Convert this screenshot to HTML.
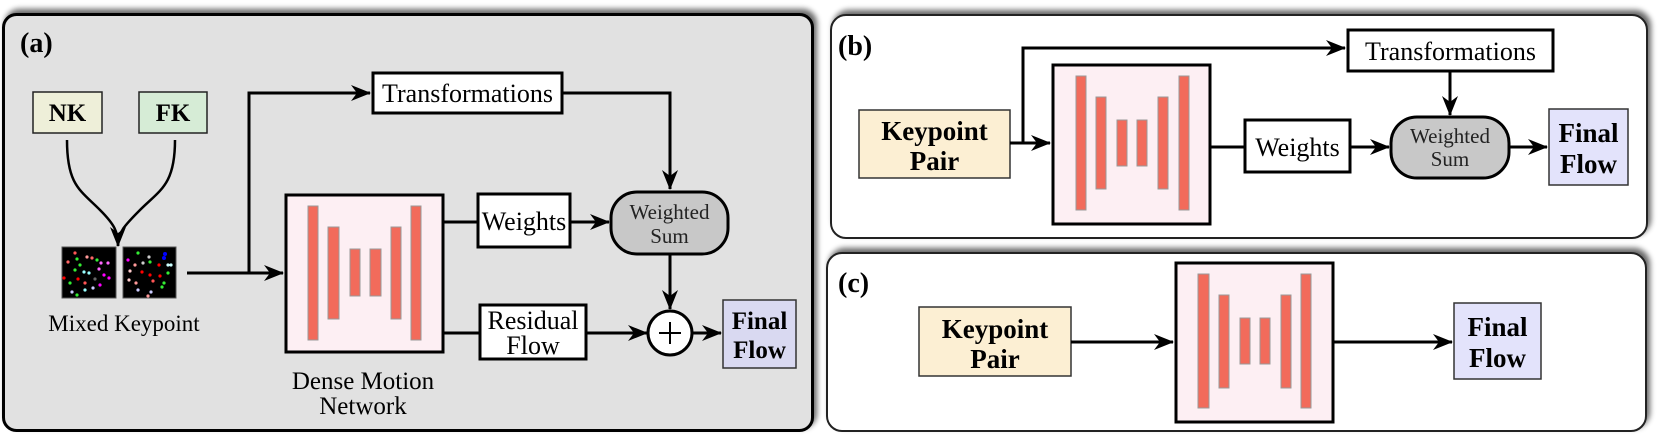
<!DOCTYPE html>
<html><head><meta charset="utf-8"><style>
html,body{margin:0;padding:0;background:#fff;}
svg{display:block;font-family:"Liberation Serif","DejaVu Serif",serif;}
svg text{font-family:"Liberation Serif","DejaVu Serif",serif;}
</style></head><body>
<svg width="1661" height="435" viewBox="0 0 1661 435" xmlns="http://www.w3.org/2000/svg" font-family="Liberation Serif, DejaVu Serif, serif">
<defs>
<marker id="ar" viewBox="0 0 20 16" refX="19" refY="8" markerWidth="20" markerHeight="16" markerUnits="userSpaceOnUse" orient="auto">
<path d="M0,0 L20,8 L0,16 L6,8 Z" fill="#000"/>
</marker>
<filter id="sh" x="-5%" y="-10%" width="110%" height="120%">
<feGaussianBlur in="SourceAlpha" stdDeviation="3"/>
<feOffset dx="3" dy="-4"/>
<feComponentTransfer><feFuncA type="linear" slope="0.6"/></feComponentTransfer>
<feMerge><feMergeNode/><feMergeNode in="SourceGraphic"/></feMerge>
</filter>
</defs>

<!-- Panel a -->
<rect x="3.5" y="14.5" width="809" height="416" rx="13" fill="#e1e1e1" stroke="#000" stroke-width="3" filter="url(#sh)"/>
<text x="20" y="52" font-size="28" font-weight="bold">(a)</text>

<rect x="33" y="92" width="69" height="41" fill="#eeefd9" stroke="#222" stroke-width="1.5"/>
<text x="67.5" y="121" font-size="25" font-weight="bold" text-anchor="middle">NK</text>
<rect x="139" y="92" width="68" height="41" fill="#d6ecd6" stroke="#222" stroke-width="1.5"/>
<text x="173" y="121" font-size="25" font-weight="bold" text-anchor="middle">FK</text>

<path d="M67,140 C67,185 80,190 100,210 C115,225 118,232 118,246" fill="none" stroke="#000" stroke-width="2.5" marker-end="url(#ar)"/>
<path d="M175,140 C175,185 160,190 140,210 C125,225 118,232 118,246" fill="none" stroke="#000" stroke-width="2.5"/>

<rect x="62" y="247" width="54" height="51" fill="#000" stroke="#555" stroke-width="1"/>
<rect x="123" y="247" width="53" height="51" fill="#000" stroke="#555" stroke-width="1"/>
<g>
<circle cx="75" cy="253" r="1.6" fill="#f55"/><circle cx="87" cy="257" r="1.6" fill="#f99"/><circle cx="92" cy="258" r="1.6" fill="#f66"/>
<circle cx="68" cy="262" r="1.6" fill="#f66"/><circle cx="77" cy="259" r="1.6" fill="#3e3"/><circle cx="80" cy="265" r="1.6" fill="#3e3"/>
<circle cx="97" cy="260" r="1.6" fill="#3e3"/><circle cx="101" cy="263" r="1.6" fill="#f6f"/><circle cx="108" cy="263" r="1.6" fill="#f6f"/>
<circle cx="75" cy="270" r="1.6" fill="#3e3"/><circle cx="84" cy="272" r="1.6" fill="#9ff"/><circle cx="89" cy="273" r="1.6" fill="#9ff"/>
<circle cx="99" cy="269" r="1.6" fill="#f6f"/><circle cx="104" cy="275" r="1.6" fill="#f0f"/><circle cx="109" cy="278" r="1.6" fill="#f0f"/>
<circle cx="64" cy="278" r="1.6" fill="#f00"/><circle cx="70" cy="283" r="1.6" fill="#3e3"/><circle cx="78" cy="279" r="1.6" fill="#f00"/>
<circle cx="85" cy="283" r="1.6" fill="#f55"/><circle cx="95" cy="279" r="1.6" fill="#666"/><circle cx="100" cy="285" r="1.6" fill="#f0f"/>
<circle cx="72" cy="292" r="1.6" fill="#ccf"/><circle cx="77" cy="295" r="1.6" fill="#3e3"/><circle cx="85" cy="290" r="1.6" fill="#9ff"/><circle cx="93" cy="288" r="1.6" fill="#ccf"/>
<circle cx="138" cy="253" r="1.6" fill="#3e3"/><circle cx="149" cy="257" r="1.6" fill="#ccc"/><circle cx="165" cy="254" r="2" fill="#00f"/><circle cx="164" cy="258" r="2" fill="#00f"/>
<circle cx="128" cy="260" r="1.6" fill="#f0f"/><circle cx="135" cy="265" r="1.6" fill="#f99"/><circle cx="143" cy="263" r="1.6" fill="#ccc"/><circle cx="150" cy="262" r="1.6" fill="#3e3"/>
<circle cx="159" cy="265" r="1.6" fill="#f00"/><circle cx="168" cy="265" r="1.6" fill="#cff"/><circle cx="171" cy="265" r="1.6" fill="#cff"/>
<circle cx="130" cy="271" r="1.6" fill="#fcc"/><circle cx="142" cy="272" r="1.6" fill="#f00"/><circle cx="150" cy="275" r="1.6" fill="#f00"/><circle cx="160" cy="276" r="1.6" fill="#f00"/><circle cx="168" cy="273" r="1.6" fill="#3e3"/>
<circle cx="129" cy="280" r="1.6" fill="#fcc"/><circle cx="136" cy="283" r="1.6" fill="#f99"/><circle cx="153" cy="281" r="1.6" fill="#f55"/><circle cx="164" cy="283" r="1.6" fill="#3e3"/>
<circle cx="138" cy="290" r="1.6" fill="#ccf"/><circle cx="151" cy="292" r="1.6" fill="#ccf"/><circle cx="162" cy="287" r="1.6" fill="#3e3"/><circle cx="148" cy="296" r="1.6" fill="#f99"/>
</g>
<text x="124" y="331" font-size="23" text-anchor="middle">Mixed Keypoint</text>

<path d="M187,273 L283,273" fill="none" stroke="#000" stroke-width="3" marker-end="url(#ar)"/>
<path d="M249,273 L249,93 L370,93" fill="none" stroke="#000" stroke-width="3" marker-end="url(#ar)"/>

<rect x="373" y="73" width="189" height="40" fill="#fff" stroke="#000" stroke-width="3"/>
<text x="467.5" y="102" font-size="26" text-anchor="middle">Transformations</text>
<path d="M562,93 L670,93 L670,189" fill="none" stroke="#000" stroke-width="3" marker-end="url(#ar)"/>

<rect x="611" y="192" width="117" height="62" rx="26" fill="#c8c8c8" stroke="#000" stroke-width="3"/>
<text x="669.5" y="219" font-size="21" text-anchor="middle" fill="#222">Weighted</text>
<text x="669.5" y="243" font-size="21" text-anchor="middle" fill="#222">Sum</text>

<!-- DMN a -->
<rect x="286" y="195" width="157" height="157" fill="#fdeff3" stroke="#000" stroke-width="3"/>
<g fill="#f26b5b" stroke="#999" stroke-width="1">
<rect x="308" y="206" width="10" height="134"/><rect x="328" y="227" width="11" height="92"/>
<rect x="350" y="249" width="10" height="47"/><rect x="370" y="249" width="11" height="47"/>
<rect x="391" y="227" width="10" height="92"/><rect x="411" y="206" width="10" height="134"/>
</g>
<text x="363" y="389" font-size="25" text-anchor="middle">Dense Motion</text>
<text x="363" y="414" font-size="25" text-anchor="middle">Network</text>

<path d="M443,222 L478,222" stroke="#000" stroke-width="3"/>
<rect x="478" y="194" width="92" height="53" fill="#fff" stroke="#000" stroke-width="3"/>
<text x="524" y="230" font-size="26" text-anchor="middle">Weights</text>
<path d="M570,222 L609,222" stroke="#000" stroke-width="3" marker-end="url(#ar)"/>

<path d="M443,333 L480,333" stroke="#000" stroke-width="3"/>
<rect x="480" y="305" width="106" height="54" fill="#fff" stroke="#000" stroke-width="3"/>
<text x="533" y="329" font-size="26" text-anchor="middle">Residual</text>
<text x="533" y="354" font-size="26" text-anchor="middle">Flow</text>
<path d="M586,333 L647,333" stroke="#000" stroke-width="3" marker-end="url(#ar)"/>

<path d="M670,255 L670,309" stroke="#000" stroke-width="3" marker-end="url(#ar)"/>
<circle cx="670" cy="333" r="22" fill="#fff" stroke="#000" stroke-width="3"/>
<path d="M659,333 L681,333 M670,322 L670,344" stroke="#000" stroke-width="2"/>
<path d="M692,333 L721,333" stroke="#000" stroke-width="3" marker-end="url(#ar)"/>

<rect x="723" y="300" width="73" height="68" fill="#d9d9f1" stroke="#333" stroke-width="1.5"/>
<text x="759.5" y="329" font-size="25" font-weight="bold" text-anchor="middle">Final</text>
<text x="759.5" y="358" font-size="25" font-weight="bold" text-anchor="middle">Flow</text>

<!-- Panel b -->
<rect x="831" y="15" width="816" height="223" rx="15" fill="#fff" stroke="#222" stroke-width="2" filter="url(#sh)"/>
<text x="838" y="55" font-size="28" font-weight="bold">(b)</text>

<rect x="859" y="110" width="151" height="68" fill="#fcefd3" stroke="#333" stroke-width="1.5"/>
<text x="934.5" y="140" font-size="27" font-weight="bold" text-anchor="middle">Keypoint</text>
<text x="934.5" y="170" font-size="27" font-weight="bold" text-anchor="middle">Pair</text>
<path d="M1010,143 L1050,143" stroke="#000" stroke-width="3" marker-end="url(#ar)"/>
<path d="M1023,143 L1023,48 L1345,48" fill="none" stroke="#000" stroke-width="3" marker-end="url(#ar)"/>

<rect x="1348" y="30" width="205" height="41" fill="#fff" stroke="#000" stroke-width="3"/>
<text x="1450.5" y="60" font-size="26" text-anchor="middle">Transformations</text>
<path d="M1450,71 L1450,115" stroke="#000" stroke-width="3" marker-end="url(#ar)"/>

<rect x="1053" y="65" width="157" height="159" fill="#fdeff3" stroke="#000" stroke-width="3"/>
<g fill="#f26b5b" stroke="#999" stroke-width="1">
<rect x="1076" y="76" width="10" height="134"/><rect x="1096" y="97" width="10" height="92"/>
<rect x="1117" y="120" width="10" height="46"/><rect x="1137" y="120" width="10" height="46"/>
<rect x="1158" y="97" width="10" height="92"/><rect x="1179" y="76" width="10" height="134"/>
</g>
<path d="M1210,147 L1245,147" stroke="#000" stroke-width="3"/>
<rect x="1245" y="120" width="105" height="52" fill="#fff" stroke="#000" stroke-width="3"/>
<text x="1297.5" y="156" font-size="26" text-anchor="middle">Weights</text>
<path d="M1350,147 L1389,147" stroke="#000" stroke-width="3" marker-end="url(#ar)"/>
<rect x="1391" y="117" width="118" height="61" rx="26" fill="#c8c8c8" stroke="#000" stroke-width="3"/>
<text x="1450" y="143" font-size="21" text-anchor="middle" fill="#222">Weighted</text>
<text x="1450" y="166" font-size="21" text-anchor="middle" fill="#222">Sum</text>
<path d="M1509,147 L1547,147" stroke="#000" stroke-width="3" marker-end="url(#ar)"/>
<rect x="1549" y="109" width="79" height="76" fill="#e3e3fb" stroke="#333" stroke-width="1.5"/>
<text x="1588.5" y="142" font-size="27" font-weight="bold" text-anchor="middle">Final</text>
<text x="1588.5" y="173" font-size="27" font-weight="bold" text-anchor="middle">Flow</text>

<!-- Panel c -->
<rect x="827" y="253" width="819" height="178" rx="15" fill="#fff" stroke="#222" stroke-width="2" filter="url(#sh)"/>
<text x="838" y="292" font-size="28" font-weight="bold">(c)</text>

<rect x="919" y="307" width="152" height="69" fill="#fcefd3" stroke="#333" stroke-width="1.5"/>
<text x="995" y="338" font-size="27" font-weight="bold" text-anchor="middle">Keypoint</text>
<text x="995" y="368" font-size="27" font-weight="bold" text-anchor="middle">Pair</text>
<path d="M1071,342 L1173,342" stroke="#000" stroke-width="3" marker-end="url(#ar)"/>

<rect x="1176" y="263" width="157" height="159" fill="#fdeff3" stroke="#000" stroke-width="3"/>
<g fill="#f26b5b" stroke="#999" stroke-width="1">
<rect x="1198" y="274" width="11" height="134"/><rect x="1219" y="295" width="10" height="93"/>
<rect x="1240" y="318" width="10" height="46"/><rect x="1260" y="318" width="10" height="46"/>
<rect x="1281" y="295" width="10" height="93"/><rect x="1301" y="274" width="10" height="134"/>
</g>
<path d="M1333,342 L1452,342" stroke="#000" stroke-width="3" marker-end="url(#ar)"/>
<rect x="1454" y="303" width="87" height="76" fill="#e3e3fb" stroke="#333" stroke-width="1.5"/>
<text x="1497.5" y="336" font-size="27" font-weight="bold" text-anchor="middle">Final</text>
<text x="1497.5" y="367" font-size="27" font-weight="bold" text-anchor="middle">Flow</text>
</svg>
</body></html>
